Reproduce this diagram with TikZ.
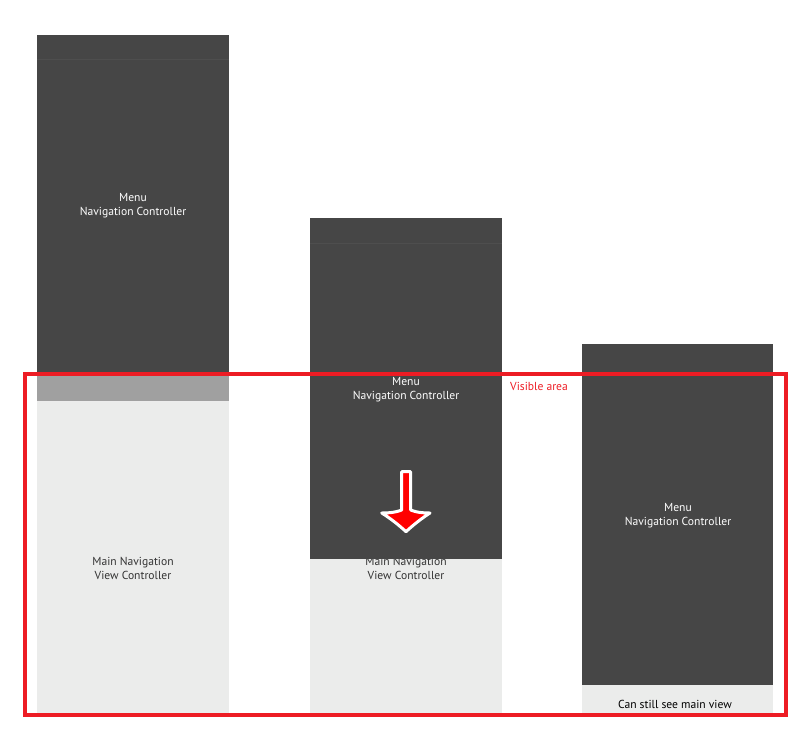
\documentclass[tikz,border=0pt]{standalone}
\usepackage{fontspec}
\setmainfont{PT Sans}
\definecolor{darkbox}{HTML}{464646}
\definecolor{darkline}{HTML}{4E4E4E}
\definecolor{midgray}{HTML}{A0A0A0}
\definecolor{lightbox}{HTML}{EBECEB}
\definecolor{visred}{HTML}{ED1C24}
\definecolor{txtgray}{HTML}{333333}
\tikzset{
  lbl/.style={align=center, font=\fontsize{11.6}{14}\selectfont, inner sep=0pt},
  whitelbl/.style={lbl, text=white},
  graylbl/.style={lbl, text=txtgray},
}
\begin{document}
\begin{tikzpicture}[x=1pt,y=-1pt]
\useasboundingbox (0,0) rectangle (811,750);
% column 1
\fill[lightbox] (37,402) rectangle (229,714);
\fill[darkbox] (37,34.5) rectangle (229,373);
\draw[darkline, line width=0.8pt] (37,59.5) -- (229,59.5);
\fill[midgray] (37,373) rectangle (229,400.5);
\draw[white!85!gray, line width=0.8pt] (37,401.2) -- (229,401.2);
\node[whitelbl] (m1) at (133,205.5) {Menu\\Navigation Controller};
\node[graylbl] (v1) at (133,568) {Main Navigation\\View Controller};
% column 2
\fill[lightbox] (310,558.5) rectangle (502,714);
\node[graylbl] (v2) at (406,568) {Main Navigation\\View Controller};
\fill[darkbox] (310,217.7) rectangle (502,558.7);
\draw[darkline, line width=0.8pt] (310,243.3) -- (502,243.3);
\node[whitelbl] (m2) at (406,389.5) {Menu\\Navigation Controller};
% arrow
\path[draw=white, line width=3pt, line join=round, fill=red]
  (401.7,471.7) -- (410.7,471.7) -- (410.7,510)
  .. controls (418,513) and (426,513) .. (430,513)
  .. controls (422,518) and (412,526) .. (406,531.7)
  .. controls (400,526) and (390,518) .. (381.7,513)
  .. controls (386,513) and (394,513) .. (401.7,510) -- cycle;
% column 3
\fill[lightbox] (582,685) rectangle (773,714);
\fill[darkbox] (582,344) rectangle (773,685);
\node[whitelbl] (m3) at (678,515.5) {Menu\\Navigation Controller};
\node[lbl, text=black] (c3) at (675,704.5) {Can still see main view};
% visible area
\draw[visred, line width=3.2pt] (25,374) rectangle (786,715);
\node[lbl, text=visred] (va) at (539,386.5) {Visible area};
\end{tikzpicture}
\end{document}
